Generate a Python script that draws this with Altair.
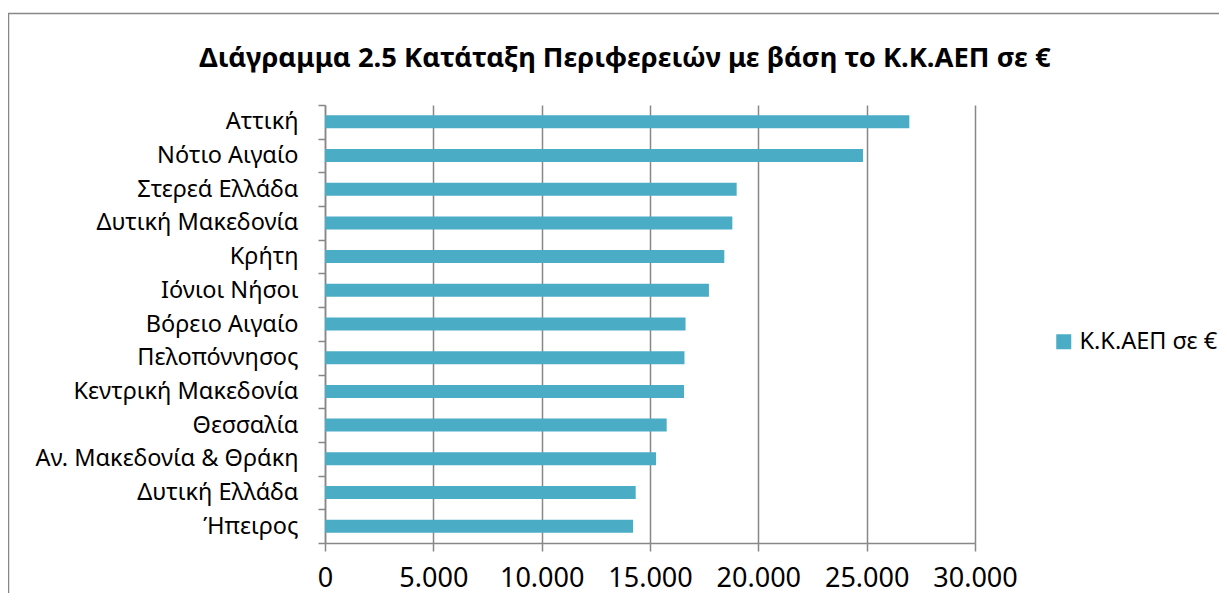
import altair as alt
import pandas as pd

regions = ["Αττική", "Νότιο Αιγαίο", "Στερεά Ελλάδα", "Δυτική Μακεδονία", "Κρήτη",
           "Ιόνιοι Νήσοι", "Βόρειο Αιγαίο", "Πελοπόννησος", "Κεντρική Μακεδονία",
           "Θεσσαλία", "Αν. Μακεδονία &  Θράκη", "Δυτική Ελλάδα", "Ήπειρος"]
values = [26970, 24830, 19000, 18800, 18430, 17720, 16640, 16590, 16570,
          15770, 15280, 14340, 14220]
series_name = "Κ.Κ.ΑΕΠ σε €"
title_text = "Διάγραμμα 2.5 Κατάταξη Περιφερειών με βάση το Κ.Κ.ΑΕΠ σε €"
x_ticks = [0, 5000, 10000, 15000, 20000, 25000, 30000]

df = pd.DataFrame({"region": regions, "value": values, "series": [series_name] * len(regions)})

FONT = "Noto Sans"
GRAY = "#878787"

bars = alt.Chart(df).mark_bar(size=13).encode(
    y=alt.Y("region:N", sort=regions,
            scale=alt.Scale(paddingInner=0, paddingOuter=0),
            axis=alt.Axis(title=None, tickBand="extent", tickSize=7, tickColor=GRAY,
                          tickWidth=1.5, domainColor=GRAY, domainWidth=1.5,
                          labelPadding=20, labelFontSize=23.5, labelColor="black",
                          labelFont=FONT, labelLimit=400, grid=False)),
    x=alt.X("value:Q", scale=alt.Scale(domain=[0, 30000], nice=False),
            axis=alt.Axis(title=None, values=x_ticks, tickSize=8, tickColor=GRAY,
                          tickWidth=1.5, domainColor=GRAY, domainWidth=1.5,
                          grid=True, gridColor=GRAY, gridWidth=1.5,
                          labelFontSize=27, labelColor="black", labelFont=FONT,
                          labelPadding=14, labelFlush=False, labelOverlap=False,
                          labelExpr="replace(format(datum.value, ','), ',', '.')")),
    color=alt.Color("series:N", scale=alt.Scale(range=["#4BACC6"]),
                    legend=alt.Legend(title=None, orient="none", legendX=727, legendY=225,
                                      symbolType="square", symbolSize=225,
                                      symbolStrokeWidth=0, labelFontSize=23.5,
                                      labelFont=FONT, labelColor="black",
                                      labelOffset=4, labelLimit=400)),
)

one = pd.DataFrame({"t": [title_text]})

border = alt.Chart(one).mark_rect(
    fillOpacity=0, stroke=GRAY, strokeWidth=1.5
).encode(
    x=alt.value(-316.5), x2=alt.value(895), y=alt.value(-91.5), y2=alt.value(520)
)

title = alt.Chart(one).mark_text(
    font=FONT, fontSize=27.4, fontWeight="bold", color="black",
    align="center", baseline="alphabetic"
).encode(text="t:N", x=alt.value(300), y=alt.value(-38))

chart = alt.layer(border, title, bars).properties(
    width=650, height=438,
    autosize=alt.AutoSizeParams(type="none"),
    padding={"left": 317, "top": 97, "right": 244, "bottom": 50},
).configure_view(stroke=None)

chart.save("out.html", embed_options={"renderer": "svg", "actions": False})
